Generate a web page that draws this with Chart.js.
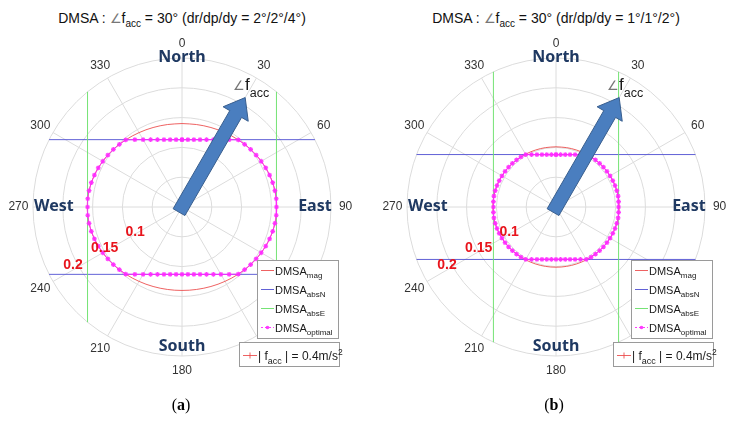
<!DOCTYPE html>
<html><head><meta charset="utf-8">
<script src="https://cdn.jsdelivr.net/npm/chart.js@4.4.1/dist/chart.umd.min.js"></script>
<style>
html,body{margin:0;padding:0;background:#fff;}
body{width:742px;height:432px;overflow:hidden;position:relative;font-family:"Liberation Sans",Arial,sans-serif;}
canvas{position:absolute;top:0;}
.title{position:absolute;top:10px;width:400px;text-align:center;font-size:14px;color:#111;white-space:nowrap;}
.title .ang{color:#777;font-size:13px;}
.title sub{font-size:10px;vertical-align:-4px;line-height:0;}
.cap{position:absolute;top:396px;width:60px;text-align:center;font-family:"Liberation Serif","DejaVu Serif",serif;font-size:16px;color:#000;}
</style></head>
<body>
<div class="title" style="left:-18px">DMSA : <span class="ang">∠</span>f<sub>acc</sub> = 30° (dr/dp/dy = 2°/2°/4°)</div>
<div class="title" style="left:356px">DMSA : <span class="ang">∠</span>f<sub>acc</sub> = 30° (dr/dp/dy = 1°/1°/2°)</div>
<canvas id="ca" width="371" height="432" style="left:0"></canvas>
<canvas id="cb" width="371" height="432" style="left:371px"></canvas>
<div class="cap" style="left:151px">(<b>a</b>)</div>
<div class="cap" style="left:524px">(<b>b</b>)</div>
<script>
// ---------- data ----------
const RMAX = 0.25;
const ringValues = [0.05, 0.1, 0.15, 0.2, 0.25];
const angleTicks = [0, 30, 60, 90, 120, 150, 180, 210, 240, 270, 300, 330];
const angleTickLabels = ['0','30','60','90','120','150','180','210','240','270','300','330'];
const radialLabels = ['0.1', '0.15', '0.2'];
const compassLabels = ['North', 'East', 'South', 'West'];
const faccAngle = 30;

// bearing (deg, clockwise from north) of red DMSA_mag samples
const thetaMag = [0,10,20,30,40,50,60,70,80,90,100,110,120,130,140,150,160,170,180,190,200,210,220,230,240,250,260,270,280,290,300,310,320,330,340,350];
// bearing of DMSA_optimal markers
const thetaOpt = [0,5,10,15,20,25,30,35,40,45,50,55,60,65,70,75,80,85,90,95,100,105,110,115,120,125,130,135,140,145,150,155,160,165,170,175,180,185,190,195,200,205,210,215,220,225,230,235,240,245,250,255,260,265,270,275,280,285,290,295,300,305,310,315,320,325,330,335,340,345,350,355];

// (a) dr/dp/dy = 2/2/4
const magA = [0.140,0.1405,0.1419,0.1441,0.147,0.1503,0.1535,0.1564,0.1583,0.159,0.1583,0.1564,0.1535,0.1503,0.147,0.1441,0.1419,0.1405,0.140,0.1405,0.1419,0.1441,0.147,0.1503,0.1535,0.1564,0.1583,0.159,0.1583,0.1564,0.1535,0.1503,0.147,0.1441,0.1419,0.1405];
const absNA = 0.113;
const absEA = 0.1585;
const optA = [0.113,0.1134,0.1147,0.117,0.1203,0.1247,0.1305,0.1379,0.147,0.1486,0.1503,0.1519,0.1535,0.155,0.1564,0.1575,0.1583,0.1588,0.1585,
  0.1588,0.1583,0.1575,0.1564,0.155,0.1535,0.1519,0.1503,0.1486,0.147,0.1379,0.1305,0.1247,0.1203,0.117,0.1147,0.1134,0.113,
  0.1134,0.1147,0.117,0.1203,0.1247,0.1305,0.1379,0.147,0.1486,0.1503,0.1519,0.1535,0.155,0.1564,0.1575,0.1583,0.1588,0.1585,
  0.1588,0.1583,0.1575,0.1564,0.155,0.1535,0.1519,0.1503,0.1486,0.147,0.1379,0.1305,0.1247,0.1203,0.117,0.1147,0.1134];

// (b) dr/dp/dy = 1/1/2
const magB = [0.101,0.1012,0.1016,0.1022,0.103,0.1039,0.1047,0.1054,0.1058,0.106,0.1058,0.1054,0.1047,0.1039,0.103,0.1022,0.1016,0.1012,0.101,0.1012,0.1016,0.1022,0.103,0.1039,0.1047,0.1054,0.1058,0.106,0.1058,0.1054,0.1047,0.1039,0.103,0.1022,0.1016,0.1012];
const absNB = 0.088;
const absEB = 0.105;
const optB = [0.088,0.0883,0.0894,0.0911,0.0936,0.0971,0.1016,0.1026,0.103,0.1035,0.1039,0.1043,0.1047,0.1051,0.1054,0.1056,0.1058,0.1054,0.105,
  0.1054,0.1058,0.1056,0.1054,0.1051,0.1047,0.1043,0.1039,0.1035,0.103,0.1026,0.1016,0.0971,0.0936,0.0911,0.0894,0.0883,0.088,
  0.0883,0.0894,0.0911,0.0936,0.0971,0.1016,0.1026,0.103,0.1035,0.1039,0.1043,0.1047,0.1051,0.1054,0.1056,0.1058,0.1054,0.105,
  0.1054,0.1058,0.1056,0.1054,0.1051,0.1047,0.1043,0.1039,0.1035,0.103,0.1026,0.1016,0.0971,0.0936,0.0911,0.0894,0.0883];

// ---------- helpers ----------
const D2R = Math.PI / 180;
function toXY(r, deg) { return { x: r * Math.sin(deg * D2R), y: r * Math.cos(deg * D2R) }; }
function polarSeries(thetas, rs) {
  const pts = thetas.map((t, i) => toXY(rs[i], t));
  pts.push(pts[0]);
  return pts;
}
// chord of the outer circle at constant y (sign s)
function hLine(v, s) {
  const hw = Math.sqrt(RMAX * RMAX - v * v);
  return [{x:-hw,y:s*v},{x:hw,y:s*v}];
}
function vLine(v, s) {
  const hh = Math.sqrt(RMAX * RMAX - v * v);
  return [{x:s*v,y:-hh},{x:s*v,y:hh}];
}

const COL = {
  mag: 'rgba(235,70,70,0.85)',
  absN: 'rgba(80,80,210,0.9)',
  absE: 'rgba(110,225,110,0.95)',
  opt: 'rgba(255,40,255,0.9)',
  grid: '#dcdcdc',
  compass: '#1f3962',
  radial: '#e8141c'
};

function P(chart, r, deg) {
  const p = toXY(r, deg);
  return { x: chart.scales.x.getPixelForValue(p.x), y: chart.scales.y.getPixelForValue(p.y) };
}
function rpx(chart, r) { return chart.scales.x.getPixelForValue(r) - chart.scales.x.getPixelForValue(0); }

function drawSubText(ctx, x, y, parts) {
  let cx = x;
  parts.forEach(p => {
    ctx.font = (p[4] || '') + ' ' + p[1] + 'px "Liberation Sans", Arial, sans-serif';
    ctx.fillStyle = p[3] || '#1a1a1a';
    ctx.fillText(p[0], cx, y + (p[2] || 0));
    cx += ctx.measureText(p[0]).width;
  });
  return cx;
}

const polarDeco = {
  id: 'polarDeco',
  beforeDatasetsDraw(chart) {
    const ctx = chart.ctx;
    const c = P(chart, 0, 0);
    ctx.save();
    ctx.strokeStyle = COL.grid;
    ctx.lineWidth = 1;
    ringValues.forEach(r => {
      ctx.beginPath(); ctx.arc(c.x, c.y, rpx(chart, r), 0, 2 * Math.PI); ctx.stroke();
    });
    angleTicks.forEach(d => {
      const p = P(chart, RMAX, d);
      ctx.beginPath(); ctx.moveTo(c.x, c.y); ctx.lineTo(p.x, p.y); ctx.stroke();
    });
    ctx.restore();
  },
  afterDatasetsDraw(chart) {
    const ctx = chart.ctx;
    const c = P(chart, 0, 0);
    ctx.save();
    // arrow
    const t = P(chart, -0.01, faccAngle), h = P(chart, 0.212, faccAngle);
    const L = Math.hypot(h.x - t.x, h.y - t.y);
    const ux = (h.x - t.x) / L, uy = (h.y - t.y) / L, nx = -uy, ny = ux;
    const w = 6.8, W = 14.5, HL = 19;
    const bx = h.x - ux * HL, by = h.y - uy * HL;
    ctx.beginPath();
    ctx.moveTo(t.x + nx * w, t.y + ny * w);
    ctx.lineTo(bx + nx * w, by + ny * w);
    ctx.lineTo(bx + nx * W, by + ny * W);
    ctx.lineTo(h.x, h.y);
    ctx.lineTo(bx - nx * W, by - ny * W);
    ctx.lineTo(bx - nx * w, by - ny * w);
    ctx.lineTo(t.x - nx * w, t.y - ny * w);
    ctx.closePath();
    ctx.fillStyle = '#4a7ebf';
    ctx.fill();
    ctx.strokeStyle = '#385e8e';
    ctx.lineWidth = 1;
    ctx.stroke();

    // angle f_acc label
    ctx.textAlign = 'left'; ctx.textBaseline = 'alphabetic';
    const fl = P(chart, 0.2157, 23.4);
    drawSubText(ctx, fl.x, fl.y + 1, [['∠', 13, 0, '#777'], ['f', 17, 0], ['acc', 12.5, 7]]);

    // angle tick labels
    ctx.font = '12px "Liberation Sans", Arial, sans-serif';
    ctx.fillStyle = '#333';
    ctx.textAlign = 'center'; ctx.textBaseline = 'middle';
    angleTicks.forEach((d, i) => {
      const p = P(chart, 0.2745, d);
      ctx.fillText(angleTickLabels[i], p.x, p.y);
    });

    // compass labels
    ctx.font = 'bold 16px "Noto Sans", "Liberation Sans", sans-serif';
    ctx.fillStyle = COL.compass;
    const cr = [0.249, 0.223, 0.235, 0.215];
    [0, 90, 180, 270].forEach((d, i) => {
      const p = P(chart, cr[i], d);
      ctx.fillText(compassLabels[i], p.x, p.y - 1);
    });

    // radial value labels
    ctx.font = 'bold 14px "Liberation Sans", Arial, sans-serif';
    ctx.fillStyle = COL.radial;
    const rr = [0.089, 0.147, 0.207];
    radialLabels.forEach((s, i) => {
      const p = P(chart, rr[i], 242);
      ctx.fillText(s, p.x, p.y);
    });

    // legend box 1
    ctx.textAlign = 'left'; ctx.textBaseline = 'alphabetic';
    const lx = Math.round(c.x) + 75, ly = Math.round(c.y) + 53;
    ctx.fillStyle = '#fff';
    ctx.fillRect(lx, ly, 81, 78);
    ctx.strokeStyle = '#9a9a9a';
    ctx.lineWidth = 1;
    ctx.strokeRect(lx + 0.5, ly + 0.5, 81, 78);
    const rows = [['mag', COL.mag], ['absN', COL.absN], ['absE', COL.absE], ['optimal', COL.opt]];
    rows.forEach((rw, i) => {
      const yy = ly + 10.5 + 19 * i;
      ctx.strokeStyle = rw[1];
      ctx.lineWidth = 1;
      if (i === 3) ctx.setLineDash([2, 2]);
      ctx.beginPath(); ctx.moveTo(lx + 4, yy); ctx.lineTo(lx + 17, yy); ctx.stroke();
      ctx.setLineDash([]);
      if (i === 3) {
        ctx.fillStyle = COL.opt;
        ctx.beginPath(); ctx.arc(lx + 10.5, yy, 1.8, 0, 2 * Math.PI); ctx.fill();
      }
      drawSubText(ctx, lx + 18, yy + 4, [['DMSA', 11, 0], [rw[0], 8, 3.5]]);
    });

    // legend box 2
    const mx = Math.round(c.x) + 57, my = Math.round(c.y) + 135;
    ctx.fillStyle = '#fff';
    ctx.fillRect(mx, my, 100, 24);
    ctx.strokeStyle = '#9a9a9a';
    ctx.strokeRect(mx + 0.5, my + 0.5, 100, 24);
    const yy2 = my + 13.5;
    ctx.strokeStyle = COL.mag;
    ctx.beginPath(); ctx.moveTo(mx + 4, yy2); ctx.lineTo(mx + 18, yy2); ctx.stroke();
    ctx.beginPath(); ctx.moveTo(mx + 11, yy2 - 3); ctx.lineTo(mx + 11, yy2 + 3); ctx.stroke();
    drawSubText(ctx, mx + 19, yy2 + 4.5, [['| f', 12, 0], ['acc', 9, 4], [' | = 0.4m/s', 12, 0], ['2', 8.5, -5.5]]);
    ctx.restore();
  }
};

function lineDs(label, data, color, order) {
  return { label, data, showLine: true, borderColor: color, borderWidth: 1, pointRadius: 0, order };
}

function makeChart(id, padL, padR, mag, absN, absE, opt) {
  return new Chart(document.getElementById(id), {
    type: 'scatter',
    data: {
      datasets: [
        { label: 'DMSAoptimal', data: polarSeries(thetaOpt, opt), showLine: true, borderColor: COL.opt, backgroundColor: COL.opt,
          borderWidth: 1, pointStyle: 'star', pointRadius: 2.4, pointBorderWidth: 1.2, tension: 0, order: 0 },
        { label: 'DMSAmag', data: polarSeries(thetaMag, mag), showLine: true, borderColor: COL.mag, borderWidth: 1,
          pointRadius: 0, tension: 0.35, order: 3 },
        lineDs('DMSAabsN', hLine(absN, 1), COL.absN, 2),
        lineDs('DMSAabsN ', hLine(absN, -1), COL.absN, 2),
        lineDs('DMSAabsE', vLine(absE, 1), COL.absE, 1),
        lineDs('DMSAabsE ', vLine(absE, -1), COL.absE, 1)
      ]
    },
    options: {
      responsive: false,
      animation: false,
      layout: { padding: { left: padL, right: padR, top: 58, bottom: 76 } },
      scales: {
        x: { type: 'linear', min: -RMAX, max: RMAX, display: false },
        y: { type: 'linear', min: -RMAX, max: RMAX, display: false }
      },
      plugins: { legend: { display: false }, tooltip: { enabled: false }, title: { display: false } }
    },
    plugins: [polarDeco]
  });
}

makeChart('ca', 33, 40, magA, absNA, absEA, optA);
makeChart('cb', 36, 37, magB, absNB, absEB, optB);
</script>
</body></html>
